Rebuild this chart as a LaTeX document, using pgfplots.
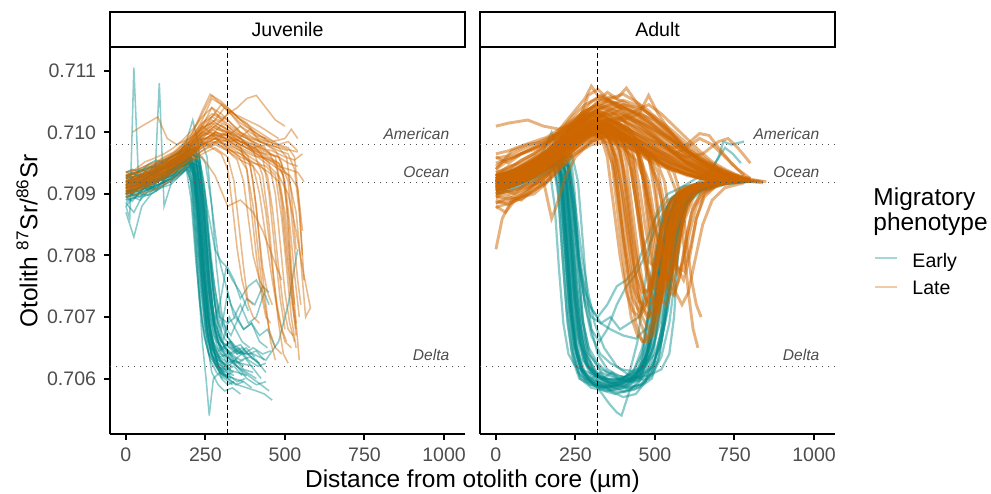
\documentclass[border=0pt]{standalone}
\usepackage{fontspec}
\setmainfont{Liberation Sans}
\usepackage{pgfplots}
\pgfplotsset{compat=1.18}
\definecolor{teal0}{HTML}{008B8B}
\definecolor{orange0}{HTML}{CD6600}
\definecolor{gray30}{HTML}{4D4D4D}
\newcommand\fs{\fontsize{8.8}{10.5}\selectfont}
\newcommand\fl{\fontsize{11}{11.2}\selectfont}
\tikzset{lab/.style={anchor=south east, inner sep=0pt, yshift=2.2pt, font=\fontsize{7}{8}\selectfont\itshape, text=gray30}}
\pgfplotsset{
  E/.style={draw=teal0, line width=0.7pt, draw opacity=0.45, no marks},
  L/.style={draw=orange0, line width=0.7pt, draw opacity=0.45, no marks},
  EA/.style={draw=teal0, line width=1.0pt, draw opacity=0.45, no marks},
  LA/.style={draw=orange0, line width=1.3pt, draw opacity=0.5, no marks},
  ref/.style={draw=gray30, line width=0.6pt, dash pattern=on 0.5pt off 2.2pt, no marks},
  vl/.style={draw=black, line width=0.6pt, dash pattern=on 2.2pt off 1.4pt, no marks},
  panel/.style={
    scale only axis, width=159.75pt, height=173.7pt, anchor=south west,
    xmin=-50, xmax=1066, ymin=0.7051, ymax=0.71137,
    axis x line*=bottom, axis line style={-, line width=1.1pt, black},
    tick style={black, line width=0.9pt}, major tick length=2.75pt, tick align=outside,
    xtick={0,250,500,750,1000}, xticklabels={0,250,500,750,1000},
    tick label style={font=\fs, text=gray30},
    /pgf/number format/assume math mode=true,
    clip=true,
  },
}
\newcommand\E{\addplot[E] coordinates}
\newcommand\Lt{\addplot[L] coordinates}
\newcommand\EA{\addplot[EA] coordinates}
\newcommand\LA{\addplot[LA] coordinates}
\newcommand\refs{%
  \addplot[ref] coordinates {(-50,0.7098)(1066,0.7098)};
  \addplot[ref] coordinates {(-50,0.70918)(1066,0.70918)};
  \addplot[ref] coordinates {(-50,0.7062)(1066,0.7062)};
  \addplot[vl] coordinates {(320,0.7051)(320,0.71137)};
  \node[lab] at (axis cs:1018,0.7098) {American};
  \node[lab] at (axis cs:1018,0.70918) {Ocean};
  \node[lab] at (axis cs:1018,0.7062) {Delta};
}
\begin{document}
\begin{tikzpicture}
\useasboundingbox (0,0) rectangle (445.95pt,221.85pt);
% ---------------- Juvenile ----------------
\begin{axis}[panel, at={(49.5pt,26.55pt)}, axis y line*=left,
  ytick={0.706,0.707,0.708,0.709,0.710,0.711},
  yticklabels={0.706,0.707,0.708,0.709,0.710,0.711}]
\E{(0,0.70902)(25,0.70908)(50,0.70915)(80,0.70920)(110,0.70928)(140,0.70935)(170,0.70945)(195,0.70955)(210,0.70940)(225,0.70880)(240,0.70790)(255,0.70700)(270,0.70650)(290,0.70630)(310,0.70625)(335,0.70620)};
\E{(0,0.70915)(30,0.70920)(60,0.70912)(90,0.70925)(120,0.70935)(150,0.70940)(180,0.70955)(205,0.70960)(220,0.70920)(235,0.70830)(250,0.70740)(265,0.70670)(280,0.70640)(300,0.70630)(320,0.70615)(350,0.70610)(380,0.70605)};
\E{(0,0.70895)(30,0.70900)(60,0.70905)(90,0.70910)(120,0.70920)(150,0.70925)(180,0.70935)(200,0.70945)(215,0.70900)(230,0.70800)(245,0.70720)(260,0.70660)(280,0.70635)(300,0.70610)(330,0.70600)};
\E{(0,0.70920)(30,0.70930)(60,0.70925)(90,0.70935)(120,0.70945)(150,0.70950)(180,0.70960)(210,0.70965)(230,0.70950)(245,0.70880)(260,0.70780)(275,0.70700)(290,0.70660)(310,0.70640)(330,0.70630)(360,0.70625)(400,0.70620)};
\E{(0,0.70885)(25,0.70870)(50,0.70895)(80,0.70900)(110,0.70910)(140,0.70915)(170,0.70930)(190,0.70940)(205,0.70890)(220,0.70790)(240,0.70690)(260,0.70640)(285,0.70620)(310,0.70615)};
\E{(0,0.70930)(30,0.70935)(60,0.70940)(90,0.70945)(120,0.70950)(150,0.70955)(180,0.70965)(210,0.70975)(230,0.70960)(245,0.70900)(260,0.70820)(275,0.70740)(290,0.70680)(310,0.70650)(330,0.70640)(360,0.70630)(390,0.70635)(420,0.70625)};
\E{(0,0.70905)(30,0.70895)(60,0.70910)(90,0.70920)(120,0.70925)(150,0.70930)(180,0.70945)(200,0.70950)(220,0.70935)(235,0.70860)(250,0.70760)(265,0.70680)(280,0.70640)(300,0.70600)(320,0.70590)(340,0.70595)};
\E{(0,0.70910)(40,0.70915)(80,0.70925)(120,0.70935)(160,0.70945)(200,0.70960)(230,0.70965)(250,0.70950)(270,0.70880)(290,0.70800)(310,0.70760)(330,0.70720)(350,0.70700)(370,0.70680)(395,0.70690)(420,0.70660)(445,0.70650)};
\E{(0,0.70925)(40,0.70920)(80,0.70930)(120,0.70940)(160,0.70950)(200,0.70955)(225,0.70945)(245,0.70860)(265,0.70730)(285,0.70660)(305,0.70650)(330,0.70660)(350,0.70645)(380,0.70640)(410,0.70630)(440,0.70610)};
\E{(0,0.70880)(12,0.70860)(25,0.71105)(40,0.70920)(70,0.70905)(100,0.70920)(130,0.70930)(160,0.70945)(190,0.70955)(210,0.70950)(225,0.70880)(240,0.70770)(255,0.70680)(270,0.70640)(290,0.70620)(310,0.70610)};
\E{(0,0.70900)(30,0.70905)(60,0.70915)(90,0.70910)(105,0.71080)(120,0.70880)(150,0.70930)(180,0.70950)(205,0.70960)(220,0.70920)(235,0.70840)(250,0.70740)(265,0.70670)(285,0.70640)(305,0.70625)(330,0.70615)};
\E{(0,0.70895)(40,0.70900)(80,0.70910)(120,0.70920)(160,0.70930)(195,0.70945)(210,0.70900)(225,0.70780)(240,0.70660)(252,0.70600)(262,0.70540)(275,0.70600)(295,0.70610)(320,0.70600)};
\E{(0,0.70910)(40,0.70915)(80,0.70920)(120,0.70930)(160,0.70945)(200,0.70955)(220,0.70930)(238,0.70840)(255,0.70730)(270,0.70660)(290,0.70620)(320,0.70600)(350,0.70590)(380,0.70585)(410,0.70580)(435,0.70575)(460,0.70565)};
\E{(0,0.70905)(40,0.70910)(80,0.70920)(120,0.70925)(160,0.70940)(200,0.70950)(225,0.70940)(245,0.70870)(262,0.70760)(280,0.70690)(300,0.70660)(330,0.70650)(360,0.70640)(400,0.70640)(440,0.70630)(480,0.70660)(510,0.70720)(540,0.70810)};
\E{(0,0.70935)(40,0.70930)(80,0.70935)(120,0.70945)(160,0.70955)(200,0.70965)(230,0.70960)(250,0.70900)(265,0.70800)(280,0.70720)(300,0.70680)(320,0.70740)(340,0.70700)(360,0.70720)(385,0.70690)(410,0.70700)(435,0.70740)(450,0.70720)};
\E{(0,0.70915)(40,0.70920)(80,0.70930)(120,0.70940)(160,0.70950)(200,0.70960)(230,0.70950)(255,0.70880)(280,0.70810)(300,0.70790)(320,0.70780)(340,0.70760)(360,0.70730)(385,0.70750)(410,0.70760)(430,0.70740)};
\E{(0,0.70890)(40,0.70895)(80,0.70905)(120,0.70915)(160,0.70925)(190,0.70940)(205,0.70920)(220,0.70830)(235,0.70720)(250,0.70660)(265,0.70630)(285,0.70610)(305,0.70600)};
\E{(0,0.70920)(40,0.70925)(80,0.70935)(120,0.70945)(160,0.70950)(200,0.70960)(215,0.70955)(230,0.70900)(245,0.70800)(260,0.70710)(275,0.70660)(295,0.70630)(320,0.70620)(345,0.70630)(370,0.70620)};
\E{(0,0.70900)(40,0.70910)(80,0.70915)(120,0.70925)(160,0.70935)(200,0.70945)(215,0.70930)(228,0.70860)(242,0.70760)(256,0.70690)(272,0.70650)(292,0.70620)(315,0.70605)(340,0.70600)(370,0.70595)};
\E{(0,0.70870)(25,0.70830)(50,0.70880)(80,0.70900)(110,0.70910)(150,0.70925)(185,0.70945)(205,0.70950)(220,0.70910)(238,0.70810)(255,0.70710)(272,0.70650)(290,0.70625)(310,0.70615)(330,0.70610)};
\E{(0,0.70910)(40,0.70918)(80,0.70925)(120,0.70935)(160,0.70948)(200,0.70958)(222,0.70950)(240,0.70890)(258,0.70790)(275,0.70710)(292,0.70670)(312,0.70650)(335,0.70640)(365,0.70650)(395,0.70635)(425,0.70620)};
\E{(0,0.70930)(40,0.70925)(80,0.70935)(120,0.70940)(160,0.70955)(200,0.70970)(225,0.70975)(245,0.70920)(262,0.70830)(278,0.70750)(295,0.70700)(315,0.70670)(340,0.70655)(370,0.70640)(400,0.70650)(430,0.70640)(455,0.70645)};
\E{(0,0.70900)(40,0.70905)(80,0.70915)(120,0.70925)(160,0.70940)(200,0.70950)(222,0.70930)(240,0.70850)(258,0.70750)(275,0.70690)(295,0.70720)(315,0.70780)(335,0.70760)(360,0.70740)(385,0.70710)};
\E{(0,0.70915)(40,0.70920)(80,0.70930)(120,0.70935)(160,0.70945)(200,0.70955)(220,0.70945)(240,0.70870)(258,0.70770)(275,0.70690)(295,0.70650)(320,0.70630)(350,0.70620)(380,0.70600)(410,0.70590)(440,0.70595)};
\E{(0,0.70925)(40,0.70930)(80,0.70945)(120,0.70955)(160,0.70965)(200,0.70975)(235,0.70990)(255,0.70960)(270,0.70880)(285,0.70780)(300,0.70710)(318,0.70670)(340,0.70650)(365,0.70640)};
\E{(0,0.70895)(40,0.70905)(80,0.70912)(120,0.70918)(160,0.70930)(190,0.70940)(210,0.70935)(225,0.70870)(240,0.70760)(255,0.70680)(270,0.70640)(290,0.70615)(310,0.70605)(335,0.70610)};
\E{(0,0.70910)(40,0.70915)(80,0.70930)(120,0.70945)(160,0.70960)(190,0.70985)(210,0.71020)(228,0.70980)(245,0.70880)(262,0.70760)(280,0.70680)(300,0.70640)(320,0.70625)};
\E{(0,0.70905)(40,0.70908)(80,0.70918)(120,0.70928)(160,0.70942)(200,0.70952)(230,0.70945)(250,0.70880)(268,0.70780)(285,0.70700)(305,0.70660)(325,0.70700)(345,0.70680)(365,0.70660)(390,0.70650)};
\E{(0,0.70915)(20,0.70905)(45,0.70925)(70,0.70918)(95,0.70935)(120,0.70930)(145,0.70948)(170,0.70945)(195,0.70962)(212,0.70950)(228,0.70875)(243,0.70775)(258,0.70690)(275,0.70650)(295,0.70635)(320,0.70640)(345,0.70625)(370,0.70630)};
\E{(0,0.70890)(20,0.70900)(45,0.70895)(70,0.70910)(95,0.70905)(120,0.70922)(145,0.70930)(170,0.70938)(195,0.70950)(208,0.70930)(222,0.70850)(236,0.70750)(250,0.70680)(268,0.70640)(290,0.70620)(315,0.70610)(340,0.70605)};
\E{(0,0.70925)(20,0.70935)(45,0.70928)(70,0.70940)(95,0.70945)(120,0.70942)(145,0.70955)(170,0.70960)(195,0.70970)(218,0.70965)(232,0.70900)(246,0.70800)(260,0.70720)(276,0.70670)(296,0.70640)(320,0.70635)(350,0.70620)(380,0.70610)(410,0.70600)};
\E{(0,0.70908)(20,0.70915)(45,0.70910)(70,0.70925)(95,0.70920)(120,0.70935)(145,0.70940)(170,0.70950)(195,0.70958)(215,0.70945)(230,0.70870)(244,0.70770)(258,0.70700)(274,0.70660)(292,0.70645)(315,0.70650)(340,0.70630)(365,0.70640)(395,0.70620)(425,0.70600)};
\E{(0,0.70880)(20,0.70892)(45,0.70900)(70,0.70898)(95,0.70912)(120,0.70920)(145,0.70925)(170,0.70935)(190,0.70945)(203,0.70920)(216,0.70830)(230,0.70730)(245,0.70670)(262,0.70640)(282,0.70620)(305,0.70610)};
\E{(0,0.70920)(20,0.70915)(45,0.70930)(70,0.70935)(95,0.70930)(120,0.70945)(145,0.70950)(170,0.70958)(195,0.70968)(220,0.70960)(238,0.70890)(252,0.70790)(266,0.70710)(282,0.70670)(300,0.70650)(325,0.70640)(355,0.70650)(385,0.70630)(415,0.70620)(440,0.70625)};
\E{(0,0.70900)(20,0.70910)(45,0.70918)(70,0.70915)(95,0.70928)(120,0.70932)(145,0.70940)(170,0.70952)(195,0.70960)(215,0.70940)(230,0.70860)(245,0.70760)(260,0.70690)(278,0.70650)(298,0.70625)(325,0.70605)(350,0.70595)(375,0.70600)};
\E{(0,0.70912)(20,0.70920)(45,0.70915)(70,0.70930)(95,0.70938)(120,0.70935)(145,0.70948)(170,0.70955)(195,0.70962)(220,0.70955)(240,0.70900)(258,0.70810)(275,0.70740)(295,0.70700)(320,0.70690)(345,0.70700)(370,0.70680)(395,0.70690)(420,0.70670)(445,0.70680)(470,0.70650)};
\E{(0,0.70930)(20,0.70925)(45,0.70940)(70,0.70935)(95,0.70948)(120,0.70952)(145,0.70960)(170,0.70968)(195,0.70975)(215,0.70970)(232,0.70910)(248,0.70810)(263,0.70730)(280,0.70680)(300,0.70660)(325,0.70640)(350,0.70630)};
\E{(0,0.70895)(20,0.70888)(45,0.70905)(70,0.70912)(95,0.70908)(120,0.70925)(145,0.70930)(170,0.70942)(195,0.70952)(213,0.70935)(228,0.70850)(243,0.70740)(258,0.70670)(275,0.70630)(295,0.70610)(320,0.70600)(345,0.70590)(370,0.70595)(395,0.70585)};
\E{(0,0.70918)(20,0.70925)(45,0.70920)(70,0.70932)(95,0.70940)(120,0.70945)(145,0.70950)(170,0.70958)(195,0.70965)(225,0.70960)(245,0.70890)(265,0.70800)(285,0.70730)(305,0.70690)(330,0.70670)(355,0.70700)(380,0.70730)(405,0.70720)(430,0.70750)(450,0.70740)};
\E{(0,0.70905)(20,0.70900)(45,0.70912)(70,0.70920)(95,0.70918)(120,0.70930)(145,0.70938)(170,0.70945)(195,0.70955)(210,0.70945)(224,0.70870)(238,0.70770)(252,0.70690)(268,0.70640)(288,0.70615)(310,0.70600)(335,0.70590)};
\E{(0,0.70935)(20,0.70940)(45,0.70935)(70,0.70948)(95,0.70955)(120,0.70950)(145,0.70962)(170,0.70970)(195,0.70980)(220,0.70975)(236,0.70920)(250,0.70830)(264,0.70750)(280,0.70690)(300,0.70660)(325,0.70650)(350,0.70640)(375,0.70645)};
\E{(0,0.70910)(20,0.70902)(45,0.70915)(70,0.70922)(95,0.70930)(120,0.70928)(145,0.70942)(170,0.70950)(195,0.70958)(216,0.70948)(232,0.70880)(247,0.70780)(262,0.70710)(278,0.70670)(298,0.70650)(322,0.70635)(348,0.70620)(372,0.70610)(398,0.70600)(425,0.70590)(450,0.70580)};
\E{(0,0.70885)(20,0.70895)(45,0.70890)(70,0.70905)(95,0.70915)(120,0.70918)(145,0.70928)(170,0.70935)(192,0.70945)(207,0.70925)(221,0.70840)(236,0.70740)(251,0.70675)(268,0.70640)(290,0.70625)(315,0.70615)(340,0.70620)(365,0.70605)};
\E{(0,0.70922)(20,0.70918)(45,0.70932)(70,0.70928)(95,0.70942)(120,0.70948)(145,0.70955)(170,0.70962)(195,0.70970)(218,0.70962)(234,0.70900)(250,0.70800)(265,0.70720)(282,0.70675)(302,0.70650)(326,0.70660)(350,0.70640)(378,0.70650)(405,0.70635)};
\E{(0,0.70900)(20,0.70908)(45,0.70902)(70,0.70918)(95,0.70925)(120,0.70922)(145,0.70935)(170,0.70945)(195,0.70952)(212,0.70935)(226,0.70850)(240,0.70740)(255,0.70660)(270,0.70610)(290,0.70590)(310,0.70580)(335,0.70585)(360,0.70575)};
\E{(0,0.70915)(20,0.70922)(45,0.70928)(70,0.70925)(95,0.70938)(120,0.70942)(145,0.70948)(170,0.70955)(195,0.70962)(214,0.70952)(229,0.70880)(244,0.70780)(259,0.70700)(276,0.70655)(296,0.70635)(320,0.70625)(345,0.70630)(370,0.70615)(400,0.70610)};
\E{(0,0.70928)(20,0.70932)(45,0.70938)(70,0.70945)(95,0.70942)(120,0.70955)(145,0.70960)(170,0.70965)(195,0.70972)(222,0.70968)(240,0.70910)(256,0.70820)(272,0.70740)(290,0.70690)(310,0.70665)(335,0.70650)(360,0.70655)(385,0.70640)(410,0.70645)(435,0.70630)};
\E{(0,0.70898)(20,0.70905)(45,0.70910)(70,0.70908)(95,0.70920)(120,0.70928)(145,0.70935)(170,0.70942)(195,0.70950)(210,0.70935)(224,0.70860)(238,0.70760)(253,0.70690)(270,0.70650)(290,0.70630)(312,0.70620)(338,0.70610)};
% late juvenile
\Lt{(0,0.70910)(40,0.70915)(80,0.70925)(120,0.70935)(160,0.70950)(200,0.70965)(240,0.70985)(280,0.71000)(320,0.70995)(360,0.70985)(400,0.70980)(440,0.70970)(470,0.70960)(490,0.70900)(505,0.70820)(520,0.70740)(535,0.70690)};
\Lt{(0,0.70920)(40,0.70925)(80,0.70930)(120,0.70940)(160,0.70955)(200,0.70975)(240,0.71010)(270,0.71040)(300,0.71020)(340,0.71000)(380,0.70990)(420,0.70975)(460,0.70970)(500,0.70960)(530,0.70955)(555,0.70965)};
\Lt{(0,0.70900)(40,0.70910)(80,0.70920)(120,0.70930)(160,0.70940)(200,0.70955)(240,0.70970)(280,0.70985)(320,0.70980)(360,0.70970)(390,0.70950)(410,0.70880)(425,0.70790)(440,0.70720)(455,0.70660)(470,0.70630)};
\Lt{(0,0.70930)(40,0.70935)(80,0.70945)(120,0.70955)(160,0.70965)(200,0.70985)(240,0.71020)(270,0.71055)(300,0.71045)(330,0.71030)(360,0.71010)(390,0.71000)(420,0.70990)(450,0.70985)};
\Lt{(0,0.70915)(40,0.70920)(80,0.70928)(120,0.70938)(160,0.70952)(200,0.70970)(240,0.70990)(280,0.70990)(320,0.70975)(360,0.70960)(400,0.70950)(440,0.70945)(470,0.70930)(490,0.70860)(505,0.70780)(520,0.70700)(535,0.70650)};
\Lt{(0,0.70905)(40,0.70912)(80,0.70920)(120,0.70930)(160,0.70945)(200,0.70960)(240,0.70980)(280,0.70990)(320,0.71000)(360,0.70990)(400,0.70975)(440,0.70960)(480,0.70950)(510,0.70930)(535,0.70870)(550,0.70790)(565,0.70700)(580,0.70715)};
\Lt{(0,0.70925)(40,0.70930)(80,0.70940)(120,0.70950)(160,0.70960)(200,0.70980)(240,0.71000)(280,0.71015)(320,0.71005)(360,0.70990)(400,0.70970)(430,0.70930)(450,0.70850)(465,0.70760)(480,0.70690)(495,0.70640)(510,0.70625)};
\Lt{(0,0.70910)(40,0.70918)(80,0.70925)(120,0.70938)(160,0.70948)(200,0.70962)(240,0.70980)(280,0.70995)(320,0.70990)(360,0.70980)(400,0.70970)(440,0.70965)(480,0.70960)(510,0.70920)(525,0.70840)(540,0.70760)(550,0.70720)};
\Lt{(0,0.70935)(40,0.70940)(80,0.70950)(120,0.70955)(160,0.70970)(200,0.70990)(240,0.71030)(270,0.71060)(300,0.71050)(340,0.71030)(380,0.71020)(420,0.71010)(450,0.71000)(480,0.70990)};
\Lt{(0,0.70900)(40,0.70905)(80,0.70915)(120,0.70925)(160,0.70938)(200,0.70955)(240,0.70970)(280,0.70980)(320,0.70970)(350,0.70955)(370,0.70920)(385,0.70860)(400,0.70800)(420,0.70760)(440,0.70740)};
\Lt{(0,0.70920)(40,0.70925)(80,0.70935)(120,0.70945)(160,0.70958)(200,0.70975)(240,0.70995)(280,0.71010)(320,0.71000)(360,0.70985)(400,0.70975)(440,0.70980)(470,0.70970)(490,0.70950)(505,0.70880)(515,0.70800)(525,0.70720)(535,0.70670)};
\Lt{(20,0.71000)(50,0.71010)(100,0.71025)(130,0.70990)(160,0.70980)(200,0.70990)(240,0.71005)(280,0.71020)(320,0.71010)(360,0.70995)(400,0.70985)(440,0.70975)};
\Lt{(0,0.70895)(40,0.70900)(80,0.70905)(120,0.70915)(160,0.70930)(200,0.70950)(240,0.70965)(280,0.70975)(320,0.70960)(340,0.70920)(355,0.70850)(370,0.70780)(385,0.70720)(400,0.70700)(420,0.70690)};
\Lt{(0,0.70915)(40,0.70922)(80,0.70932)(120,0.70942)(160,0.70955)(200,0.70968)(240,0.70985)(280,0.71000)(320,0.70995)(360,0.70980)(400,0.70968)(440,0.70955)(480,0.70940)(515,0.70930)(540,0.70910)(555,0.70840)};
\Lt{(0,0.70910)(40,0.70915)(80,0.70925)(120,0.70935)(160,0.70950)(200,0.70965)(240,0.70980)(280,0.70990)(320,0.70985)(360,0.70975)(400,0.70965)(440,0.70950)(480,0.70930)(510,0.70900)(535,0.70840)(555,0.70780)(580,0.70715)};
\Lt{(0,0.70925)(40,0.70930)(80,0.70938)(120,0.70948)(160,0.70960)(200,0.70978)(240,0.70995)(280,0.71010)(320,0.71030)(350,0.71040)(380,0.71055)(410,0.71060)(440,0.71040)(470,0.71020)(500,0.71010)};
\Lt{(0,0.70905)(40,0.70910)(80,0.70918)(120,0.70928)(160,0.70940)(200,0.70958)(240,0.70975)(280,0.70985)(320,0.70970)(360,0.70955)(400,0.70945)(420,0.70900)(440,0.70830)(460,0.70760)(480,0.70700)(500,0.70660)(520,0.70650)};
\Lt{(0,0.70920)(40,0.70928)(80,0.70938)(120,0.70945)(160,0.70960)(200,0.70980)(240,0.71000)(280,0.71020)(310,0.71040)(340,0.71030)(380,0.71010)(420,0.70995)(460,0.70985)(500,0.70990)(520,0.71005)(540,0.70990)};
\Lt{(0,0.70912)(40,0.70918)(80,0.70926)(120,0.70936)(160,0.70948)(200,0.70962)(240,0.70978)(280,0.70990)(320,0.70975)(355,0.70960)(380,0.70940)(400,0.70880)(415,0.70810)(430,0.70740)(450,0.70680)(470,0.70650)(490,0.70640)};
\Lt{(0,0.70900)(40,0.70908)(80,0.70915)(120,0.70925)(160,0.70938)(200,0.70955)(240,0.70960)(280,0.70930)(320,0.70880)(360,0.70890)(400,0.70870)(430,0.70840)(460,0.70800)(490,0.70760)};
\Lt{(0,0.70930)(40,0.70935)(80,0.70942)(120,0.70952)(160,0.70965)(200,0.70985)(240,0.71010)(280,0.71030)(320,0.71020)(360,0.71000)(400,0.70990)(440,0.70985)(480,0.70980)(510,0.70975)(530,0.70960)(545,0.70880)(560,0.70760)};
\Lt{(0,0.70915)(40,0.70920)(80,0.70930)(120,0.70940)(160,0.70952)(200,0.70968)(240,0.70988)(280,0.70998)(320,0.70988)(360,0.70972)(400,0.70962)(440,0.70958)(470,0.70950)(495,0.70930)(510,0.70860)(522,0.70770)(535,0.70690)(545,0.70630)};
\Lt{(0,0.70908)(40,0.70914)(80,0.70922)(120,0.70932)(160,0.70946)(200,0.70962)(240,0.70982)(280,0.70996)(320,0.70994)(360,0.70984)(400,0.70976)(440,0.70968)(480,0.70960)(510,0.70950)(540,0.70945)};
\Lt{(0,0.70922)(40,0.70926)(80,0.70934)(120,0.70944)(160,0.70956)(200,0.70972)(240,0.70992)(280,0.71006)(320,0.71000)(360,0.70990)(400,0.70980)(430,0.70960)(450,0.70900)(468,0.70810)(485,0.70730)(500,0.70680)};
\Lt{(0,0.70918)(30,0.70925)(60,0.70922)(90,0.70938)(120,0.70945)(150,0.70958)(180,0.70965)(210,0.70982)(240,0.71000)(270,0.70995)(300,0.71012)(330,0.71000)(360,0.70992)(390,0.71005)(420,0.70985)(450,0.70980)(480,0.70975)(505,0.70960)(520,0.70900)(535,0.70810)};
\Lt{(0,0.70905)(30,0.70915)(60,0.70918)(90,0.70925)(120,0.70935)(150,0.70945)(180,0.70958)(210,0.70970)(240,0.70985)(270,0.70978)(300,0.70992)(330,0.70985)(360,0.70975)(385,0.70960)(400,0.70920)(415,0.70850)(430,0.70780)(445,0.70740)(460,0.70720)};
\Lt{(0,0.70925)(30,0.70935)(60,0.70930)(90,0.70945)(120,0.70952)(150,0.70962)(180,0.70975)(210,0.70990)(240,0.71015)(270,0.71025)(300,0.71018)(330,0.71035)(360,0.71020)(390,0.71010)(420,0.71000)(450,0.70990)(480,0.70980)(510,0.70985)(540,0.70970)};
\Lt{(0,0.70912)(30,0.70920)(60,0.70925)(90,0.70930)(120,0.70942)(150,0.70950)(180,0.70962)(210,0.70975)(240,0.70990)(270,0.71005)(300,0.70995)(330,0.70985)(360,0.70990)(390,0.70975)(420,0.70965)(450,0.70950)(470,0.70900)(485,0.70820)(500,0.70740)(515,0.70690)(530,0.70660)};
\Lt{(0,0.70930)(30,0.70938)(60,0.70945)(90,0.70950)(120,0.70960)(150,0.70968)(180,0.70982)(210,0.71000)(240,0.71035)(265,0.71062)(290,0.71050)(320,0.71040)(350,0.71025)(380,0.71015)(410,0.70995)(440,0.70990)};
\Lt{(0,0.70898)(30,0.70905)(60,0.70912)(90,0.70920)(120,0.70928)(150,0.70940)(180,0.70952)(210,0.70965)(240,0.70975)(270,0.70985)(300,0.70978)(330,0.70970)(360,0.70965)(390,0.70955)(420,0.70945)(450,0.70935)(480,0.70920)(500,0.70870)(515,0.70790)(530,0.70720)};
\Lt{(0,0.70915)(30,0.70922)(60,0.70930)(90,0.70935)(120,0.70945)(150,0.70955)(180,0.70968)(210,0.70985)(240,0.71005)(270,0.71020)(300,0.71010)(330,0.70998)(360,0.71010)(390,0.70995)(420,0.70985)(450,0.70978)(480,0.70970)(510,0.70965)(530,0.70940)(545,0.70870)(555,0.70800)};
\Lt{(0,0.70922)(30,0.70918)(60,0.70935)(90,0.70940)(120,0.70950)(150,0.70962)(180,0.70975)(210,0.70990)(240,0.71010)(270,0.70998)(300,0.70985)(330,0.70990)(360,0.70978)(380,0.70940)(395,0.70870)(410,0.70800)(425,0.70740)(440,0.70700)(455,0.70690)};
\Lt{(0,0.70908)(30,0.70912)(60,0.70920)(90,0.70932)(120,0.70940)(150,0.70952)(180,0.70962)(210,0.70978)(240,0.70995)(270,0.71000)(300,0.70990)(330,0.70980)(360,0.70970)(390,0.70960)(420,0.70950)(445,0.70930)(462,0.70870)(478,0.70790)(494,0.70720)(510,0.70680)(525,0.70670)};
\Lt{(0,0.70935)(30,0.70940)(60,0.70952)(90,0.70958)(120,0.70965)(150,0.70975)(180,0.70988)(210,0.71005)(240,0.71025)(270,0.71040)(300,0.71030)(330,0.71015)(360,0.71000)(390,0.70990)(420,0.70985)(450,0.70980)(480,0.70975)(510,0.70970)};
\Lt{(0,0.70902)(30,0.70910)(60,0.70915)(90,0.70925)(120,0.70932)(150,0.70945)(180,0.70955)(210,0.70968)(240,0.70982)(270,0.70975)(300,0.70965)(320,0.70940)(335,0.70880)(350,0.70810)(365,0.70760)(380,0.70730)(400,0.70720)};
\Lt{(0,0.70920)(30,0.70928)(60,0.70932)(90,0.70942)(120,0.70950)(150,0.70960)(180,0.70972)(210,0.70988)(240,0.71008)(270,0.71015)(300,0.71005)(330,0.70995)(360,0.70985)(390,0.70975)(420,0.70970)(450,0.70960)(480,0.70950)(500,0.70920)(515,0.70850)(530,0.70770)(545,0.70700)};
\Lt{(0,0.70912)(30,0.70918)(60,0.70928)(90,0.70935)(120,0.70942)(150,0.70955)(180,0.70965)(210,0.70980)(240,0.70998)(270,0.71010)(300,0.71002)(330,0.70990)(360,0.70980)(390,0.70972)(420,0.70962)(450,0.70955)(480,0.70945)(510,0.70940)(540,0.70935)(560,0.70920)};
\Lt{(0,0.70928)(30,0.70932)(60,0.70940)(90,0.70948)(120,0.70958)(150,0.70966)(180,0.70978)(210,0.70995)(240,0.71015)(270,0.71030)(300,0.71022)(330,0.71010)(360,0.70998)(390,0.70988)(420,0.70978)(450,0.70968)(475,0.70940)(490,0.70880)(505,0.70800)(520,0.70730)(535,0.70680)};
\Lt{(0,0.70905)(30,0.70912)(60,0.70918)(90,0.70928)(120,0.70935)(150,0.70948)(180,0.70960)(210,0.70972)(240,0.70988)(270,0.70995)(300,0.70985)(330,0.70975)(360,0.70965)(390,0.70952)(420,0.70930)(440,0.70870)(458,0.70790)(475,0.70720)(490,0.70680)(505,0.70660)};
\Lt{(0,0.70918)(30,0.70924)(60,0.70932)(90,0.70940)(120,0.70948)(150,0.70958)(180,0.70970)(210,0.70986)(240,0.71002)(270,0.71025)(300,0.71045)(330,0.71030)(360,0.71015)(390,0.71005)(420,0.70995)(450,0.70985)(480,0.70978)(510,0.70972)(540,0.70968)};
\refs
\end{axis}
% ---------------- Adult ----------------
\begin{axis}[panel, at={(216pt,26.55pt)}, axis y line*=none, ytick=\empty]
\EA{(0,0.70920)(40,0.70925)(80,0.70930)(120,0.70940)(160,0.70950)(185,0.70955)(200,0.70920)(215,0.70820)(230,0.70710)(245,0.70640)(265,0.70600)(300,0.70585)(350,0.70580)(400,0.70585)(440,0.70600)(465,0.70650)(485,0.70730)(505,0.70810)(525,0.70865)(555,0.70895)(600,0.70910)(650,0.70915)(700,0.70920)};
\EA{(0,0.70910)(40,0.70915)(80,0.70922)(120,0.70932)(160,0.70942)(195,0.70950)(210,0.70915)(225,0.70810)(240,0.70700)(258,0.70630)(280,0.70600)(320,0.70590)(370,0.70585)(420,0.70590)(460,0.70610)(485,0.70660)(505,0.70740)(525,0.70820)(545,0.70870)(575,0.70900)(620,0.70912)(680,0.70918)(740,0.70920)};
\EA{(0,0.70925)(40,0.70930)(80,0.70938)(120,0.70946)(160,0.70956)(200,0.70965)(220,0.70930)(235,0.70830)(250,0.70730)(268,0.70660)(290,0.70620)(330,0.70600)(380,0.70595)(430,0.70600)(470,0.70620)(495,0.70680)(515,0.70760)(535,0.70840)(560,0.70885)(600,0.70905)(660,0.70915)(720,0.70920)};
\EA{(0,0.70915)(40,0.70920)(80,0.70928)(120,0.70936)(160,0.70946)(180,0.70950)(195,0.70900)(210,0.70790)(225,0.70690)(242,0.70630)(262,0.70600)(300,0.70590)(340,0.70585)(380,0.70590)(420,0.70610)(445,0.70660)(465,0.70740)(485,0.70820)(505,0.70870)(540,0.70900)(590,0.70912)(650,0.70918)};
\EA{(0,0.70905)(40,0.70910)(80,0.70918)(120,0.70928)(160,0.70940)(200,0.70950)(230,0.70945)(245,0.70870)(260,0.70770)(275,0.70690)(295,0.70640)(330,0.70610)(380,0.70600)(430,0.70595)(480,0.70600)(510,0.70630)(530,0.70690)(550,0.70770)(570,0.70840)(595,0.70885)(640,0.70905)(700,0.70915)(780,0.70920)};
\EA{(0,0.70930)(40,0.70934)(80,0.70940)(120,0.70948)(160,0.70958)(190,0.70965)(205,0.70930)(220,0.70830)(235,0.70720)(250,0.70650)(270,0.70610)(310,0.70590)(360,0.70582)(410,0.70585)(450,0.70600)(475,0.70640)(495,0.70710)(515,0.70790)(535,0.70850)(565,0.70890)(610,0.70908)(670,0.70916)(750,0.70920)};
\EA{(0,0.70918)(40,0.70922)(80,0.70930)(120,0.70938)(160,0.70948)(200,0.70958)(215,0.70940)(228,0.70860)(242,0.70760)(256,0.70680)(275,0.70630)(305,0.70600)(350,0.70590)(400,0.70580)(450,0.70585)(490,0.70600)(515,0.70640)(535,0.70710)(555,0.70790)(575,0.70850)(600,0.70885)(650,0.70905)(720,0.70915)(800,0.70920)};
\EA{(0,0.70912)(40,0.70918)(80,0.70926)(120,0.70934)(160,0.70944)(200,0.70955)(222,0.70930)(238,0.70840)(254,0.70740)(270,0.70670)(290,0.70620)(320,0.70595)(360,0.70580)(400,0.70570)(440,0.70575)(470,0.70595)(495,0.70640)(515,0.70710)(535,0.70790)(560,0.70860)(590,0.70895)(640,0.70910)(700,0.70918)};
\EA{(0,0.70920)(40,0.70925)(80,0.70933)(120,0.70942)(160,0.70952)(195,0.70960)(212,0.70920)(228,0.70810)(244,0.70710)(262,0.70640)(285,0.70600)(320,0.70585)(355,0.70560)(380,0.70545)(395,0.70540)(420,0.70580)(455,0.70600)(480,0.70640)(500,0.70710)(520,0.70790)(545,0.70860)(575,0.70895)(620,0.70910)(680,0.70918)};
\EA{(0,0.70925)(40,0.70930)(80,0.70938)(120,0.70946)(160,0.70955)(190,0.70960)(205,0.70925)(220,0.70820)(236,0.70710)(252,0.70640)(272,0.70605)(310,0.70590)(360,0.70585)(410,0.70590)(450,0.70610)(475,0.70660)(495,0.70740)(515,0.70820)(540,0.70880)(580,0.70910)(630,0.70925)(680,0.70940)(700,0.70960)(715,0.70985)(740,0.70980)(780,0.70985)};
\EA{(0,0.70900)(40,0.70905)(80,0.70912)(120,0.70920)(150,0.70930)(170,0.70935)(185,0.70880)(198,0.70780)(212,0.70690)(228,0.70640)(250,0.70620)(290,0.70610)(340,0.70600)(390,0.70598)(430,0.70610)(460,0.70640)(480,0.70700)(500,0.70780)(520,0.70850)(550,0.70890)(600,0.70908)(660,0.70916)};
\EA{(0,0.70915)(40,0.70920)(80,0.70928)(120,0.70937)(160,0.70947)(200,0.70957)(225,0.70940)(240,0.70850)(255,0.70750)(272,0.70680)(292,0.70640)(330,0.70615)(380,0.70605)(430,0.70600)(480,0.70605)(520,0.70615)(545,0.70640)(560,0.70700)(572,0.70800)(585,0.70870)(610,0.70900)(660,0.70912)(720,0.70918)(790,0.70920)};
\EA{(0,0.70908)(40,0.70913)(80,0.70920)(120,0.70930)(160,0.70940)(200,0.70952)(230,0.70945)(250,0.70880)(270,0.70800)(290,0.70740)(310,0.70690)(340,0.70650)(380,0.70620)(420,0.70605)(460,0.70600)(495,0.70620)(520,0.70670)(540,0.70740)(560,0.70820)(585,0.70870)(620,0.70900)(670,0.70912)(740,0.70918)};
\EA{(0,0.70922)(40,0.70927)(80,0.70935)(120,0.70944)(160,0.70954)(200,0.70962)(225,0.70950)(240,0.70880)(258,0.70790)(278,0.70730)(300,0.70700)(330,0.70690)(360,0.70680)(400,0.70670)(440,0.70665)(470,0.70680)(495,0.70730)(520,0.70800)(545,0.70860)(575,0.70895)(620,0.70910)(680,0.70918)};
\EA{(0,0.70918)(40,0.70923)(80,0.70931)(120,0.70940)(160,0.70950)(200,0.70960)(235,0.70965)(248,0.70900)(260,0.70790)(272,0.70700)(288,0.70640)(315,0.70605)(360,0.70590)(410,0.70585)(455,0.70590)(490,0.70610)(515,0.70660)(535,0.70740)(555,0.70820)(580,0.70875)(620,0.70902)(680,0.70914)(760,0.70920)};
\EA{(0,0.70912)(40,0.70916)(80,0.70924)(120,0.70933)(160,0.70943)(190,0.70952)(204,0.70915)(218,0.70815)(232,0.70715)(248,0.70650)(268,0.70615)(300,0.70598)(345,0.70592)(395,0.70595)(440,0.70605)(470,0.70630)(492,0.70690)(512,0.70770)(532,0.70840)(560,0.70885)(605,0.70906)(665,0.70915)(730,0.70920)};
\EA{(0,0.70928)(40,0.70932)(80,0.70940)(120,0.70948)(160,0.70958)(198,0.70966)(214,0.70935)(230,0.70835)(246,0.70730)(264,0.70660)(286,0.70620)(320,0.70600)(370,0.70592)(420,0.70596)(465,0.70612)(495,0.70650)(518,0.70720)(540,0.70800)(562,0.70860)(590,0.70895)(640,0.70910)(710,0.70918)(820,0.70920)};
\EA{(0,0.70920)(40,0.70925)(80,0.70935)(120,0.70950)(150,0.70970)(175,0.71000)(190,0.70980)(205,0.70900)(220,0.70790)(236,0.70700)(254,0.70640)(276,0.70610)(310,0.70595)(360,0.70588)(410,0.70592)(455,0.70605)(485,0.70640)(508,0.70710)(528,0.70790)(550,0.70855)(580,0.70892)(630,0.70908)(690,0.70916)};
\EA{(0,0.70915)(40,0.70920)(80,0.70928)(120,0.70938)(160,0.70948)(200,0.70958)(225,0.70945)(245,0.70870)(265,0.70780)(290,0.70720)(320,0.70700)(350,0.70720)(380,0.70750)(410,0.70760)(440,0.70780)(470,0.70820)(500,0.70860)(540,0.70890)(590,0.70905)(650,0.70914)(720,0.70920)};
\EA{(0,0.70905)(40,0.70910)(80,0.70917)(120,0.70926)(160,0.70937)(200,0.70948)(218,0.70920)(232,0.70830)(248,0.70730)(265,0.70660)(285,0.70625)(320,0.70605)(365,0.70598)(410,0.70600)(450,0.70612)(478,0.70645)(498,0.70705)(518,0.70780)(540,0.70850)(568,0.70890)(615,0.70906)(680,0.70916)(760,0.70920)};
\EA{(0,0.70922)(40,0.70915)(80,0.70930)(120,0.70938)(160,0.70945)(190,0.70955)(206,0.70925)(221,0.70830)(236,0.70725)(252,0.70655)(272,0.70615)(300,0.70600)(330,0.70610)(360,0.70590)(390,0.70600)(420,0.70595)(450,0.70605)(475,0.70640)(495,0.70700)(515,0.70780)(535,0.70845)(560,0.70885)(600,0.70905)(660,0.70915)(730,0.70920)};
\EA{(0,0.70910)(40,0.70918)(80,0.70922)(120,0.70935)(160,0.70942)(195,0.70952)(212,0.70930)(226,0.70840)(240,0.70740)(256,0.70670)(276,0.70630)(305,0.70610)(335,0.70600)(365,0.70610)(395,0.70595)(425,0.70600)(455,0.70615)(480,0.70650)(500,0.70710)(520,0.70790)(540,0.70850)(565,0.70888)(610,0.70906)(670,0.70916)};
\EA{(0,0.70918)(40,0.70925)(80,0.70930)(120,0.70940)(160,0.70952)(200,0.70962)(228,0.70955)(245,0.70885)(262,0.70800)(282,0.70740)(305,0.70710)(330,0.70690)(360,0.70700)(390,0.70680)(420,0.70690)(450,0.70700)(475,0.70740)(500,0.70800)(525,0.70855)(555,0.70890)(600,0.70906)(660,0.70915)(730,0.70920)};
\EA{(0,0.70925)(40,0.70930)(80,0.70936)(120,0.70945)(160,0.70955)(200,0.70963)(218,0.70940)(232,0.70850)(246,0.70745)(262,0.70670)(282,0.70625)(310,0.70605)(345,0.70595)(380,0.70590)(415,0.70595)(450,0.70600)(485,0.70615)(515,0.70650)(540,0.70710)(560,0.70790)(580,0.70855)(605,0.70892)(650,0.70908)(710,0.70916)(790,0.70920)};
\EA{(0,0.70900)(40,0.70908)(80,0.70915)(120,0.70925)(160,0.70935)(185,0.70942)(200,0.70905)(214,0.70805)(228,0.70705)(244,0.70640)(264,0.70605)(295,0.70590)(330,0.70585)(365,0.70590)(400,0.70600)(435,0.70615)(460,0.70650)(480,0.70710)(500,0.70790)(520,0.70855)(548,0.70890)(595,0.70906)(655,0.70915)};
\EA{(0,0.70928)(40,0.70935)(80,0.70942)(120,0.70950)(160,0.70960)(205,0.70968)(225,0.70950)(240,0.70870)(255,0.70770)(272,0.70695)(292,0.70650)(320,0.70625)(350,0.70610)(385,0.70600)(420,0.70605)(455,0.70615)(488,0.70640)(515,0.70690)(538,0.70760)(558,0.70830)(580,0.70875)(610,0.70900)(660,0.70912)(730,0.70918)(810,0.70920)};
\EA{(0,0.70915)(40,0.70922)(80,0.70930)(120,0.70938)(160,0.70948)(200,0.70956)(240,0.70962)(258,0.70920)(272,0.70830)(286,0.70740)(300,0.70680)(320,0.70640)(350,0.70615)(385,0.70605)(420,0.70600)(455,0.70605)(490,0.70620)(520,0.70660)(545,0.70730)(565,0.70810)(585,0.70865)(615,0.70898)(665,0.70912)(740,0.70920)};
\EA{(0,0.70912)(40,0.70918)(80,0.70925)(120,0.70934)(160,0.70944)(195,0.70953)(210,0.70925)(224,0.70830)(238,0.70725)(254,0.70650)(274,0.70610)(305,0.70590)(340,0.70580)(375,0.70575)(410,0.70580)(445,0.70590)(475,0.70615)(500,0.70665)(522,0.70740)(542,0.70815)(565,0.70870)(595,0.70898)(645,0.70910)(710,0.70918)};
\EA{(0,0.70920)(40,0.70926)(80,0.70934)(120,0.70944)(160,0.70954)(200,0.70962)(225,0.70950)(242,0.70880)(260,0.70790)(280,0.70720)(300,0.70680)(325,0.70660)(350,0.70680)(380,0.70720)(410,0.70750)(440,0.70770)(470,0.70800)(500,0.70840)(530,0.70875)(570,0.70900)(620,0.70910)(690,0.70918)};
\EA{(0,0.70905)(40,0.70912)(80,0.70920)(120,0.70930)(160,0.70940)(200,0.70950)(222,0.70935)(237,0.70850)(252,0.70750)(268,0.70680)(288,0.70635)(318,0.70610)(350,0.70598)(385,0.70590)(420,0.70585)(455,0.70590)(490,0.70605)(520,0.70635)(545,0.70690)(565,0.70770)(582,0.70840)(600,0.70880)(630,0.70902)(680,0.70914)(750,0.70920)};
\EA{(0,0.70930)(40,0.70936)(80,0.70944)(120,0.70952)(160,0.70960)(188,0.70968)(203,0.70935)(217,0.70835)(231,0.70725)(246,0.70655)(266,0.70615)(296,0.70598)(330,0.70590)(365,0.70588)(400,0.70592)(435,0.70602)(465,0.70625)(490,0.70670)(510,0.70740)(530,0.70815)(552,0.70870)(580,0.70898)(625,0.70910)(690,0.70918)(770,0.70920)};
\EA{(0,0.70918)(40,0.70922)(80,0.70930)(120,0.70940)(160,0.70950)(200,0.70958)(220,0.70935)(235,0.70845)(250,0.70745)(266,0.70675)(286,0.70630)(316,0.70605)(350,0.70595)(385,0.70592)(420,0.70600)(455,0.70615)(485,0.70650)(510,0.70720)(532,0.70800)(555,0.70860)(585,0.70895)(625,0.70915)(665,0.70930)(695,0.70955)(720,0.70975)(745,0.70965)(770,0.70950)};
\EA{(0,0.70908)(40,0.70915)(80,0.70922)(120,0.70932)(160,0.70942)(180,0.70948)(195,0.70910)(208,0.70810)(222,0.70710)(238,0.70645)(258,0.70610)(288,0.70595)(320,0.70590)(355,0.70585)(390,0.70590)(425,0.70600)(455,0.70620)(478,0.70660)(498,0.70730)(518,0.70810)(540,0.70865)(570,0.70895)(615,0.70908)(675,0.70916)};
\EA{(0,0.70925)(40,0.70928)(80,0.70936)(120,0.70946)(160,0.70956)(200,0.70965)(230,0.70958)(246,0.70890)(262,0.70795)(280,0.70720)(300,0.70670)(328,0.70640)(360,0.70625)(395,0.70615)(430,0.70612)(465,0.70620)(500,0.70640)(528,0.70690)(550,0.70760)(568,0.70830)(588,0.70875)(615,0.70900)(660,0.70912)(720,0.70918)};
\EA{(0,0.70915)(40,0.70920)(80,0.70926)(120,0.70936)(160,0.70946)(192,0.70955)(207,0.70925)(221,0.70830)(235,0.70725)(250,0.70655)(270,0.70615)(298,0.70595)(330,0.70585)(365,0.70580)(400,0.70578)(435,0.70582)(470,0.70595)(498,0.70625)(520,0.70680)(540,0.70755)(560,0.70830)(582,0.70878)(612,0.70902)(660,0.70912)(730,0.70920)};
\EA{(0,0.70920)(40,0.70925)(80,0.70932)(120,0.70942)(160,0.70952)(200,0.70960)(216,0.70945)(230,0.70870)(245,0.70770)(260,0.70695)(278,0.70645)(305,0.70615)(338,0.70600)(372,0.70598)(405,0.70602)(440,0.70612)(470,0.70635)(495,0.70680)(518,0.70750)(540,0.70825)(562,0.70875)(592,0.70900)(640,0.70912)(705,0.70918)};
% late adult
\LA{(0,0.70920)(50,0.70930)(100,0.70940)(150,0.70955)(200,0.70975)(250,0.70995)(300,0.71010)(350,0.71015)(400,0.71005)(450,0.70990)(500,0.70975)(550,0.70960)(600,0.70945)(650,0.70935)(700,0.70928)(750,0.70922)(800,0.70920)};
\LA{(0,0.70910)(50,0.70915)(100,0.70925)(150,0.70940)(200,0.70960)(250,0.70985)(300,0.71000)(350,0.71005)(400,0.70995)(450,0.70985)(500,0.70970)(550,0.70955)(600,0.70940)(650,0.70930)(700,0.70922)(740,0.70918)};
\LA{(0,0.70930)(50,0.70940)(100,0.70950)(150,0.70965)(200,0.70990)(250,0.71015)(300,0.71035)(350,0.71040)(400,0.71030)(450,0.71015)(500,0.70995)(550,0.70975)(600,0.70955)(650,0.70940)(700,0.70930)(750,0.70925)(800,0.70920)(840,0.70918)};
\LA{(0,0.70900)(50,0.70905)(100,0.70915)(150,0.70930)(200,0.70950)(250,0.70970)(300,0.70985)(350,0.70990)(400,0.70985)(450,0.70975)(500,0.70960)(550,0.70945)(600,0.70935)(650,0.70925)(700,0.70918)};
\LA{(0,0.70925)(50,0.70935)(100,0.70945)(150,0.70960)(200,0.70985)(250,0.71020)(300,0.71050)(330,0.71060)(360,0.71050)(400,0.71035)(450,0.71020)(500,0.71000)(550,0.70980)(600,0.70960)(650,0.70945)(700,0.70935)(750,0.70925)(800,0.70920)};
\LA{(0,0.70915)(50,0.70920)(100,0.70930)(150,0.70945)(200,0.70965)(250,0.70990)(300,0.71005)(350,0.71020)(400,0.71025)(450,0.71015)(500,0.70995)(550,0.70970)(600,0.70950)(650,0.70935)(700,0.70925)(760,0.70920)};
\LA{(0,0.70935)(50,0.70945)(100,0.70960)(150,0.70975)(200,0.70995)(250,0.71010)(300,0.71020)(350,0.71010)(400,0.70995)(450,0.70980)(500,0.70965)(550,0.70950)(600,0.70940)(650,0.70930)(700,0.70925)(750,0.70920)};
\LA{(0,0.70905)(50,0.70912)(100,0.70922)(150,0.70938)(200,0.70958)(250,0.70980)(300,0.70998)(350,0.71010)(400,0.71020)(450,0.71030)(500,0.71020)(550,0.71000)(600,0.70975)(650,0.70955)(700,0.70940)(750,0.70930)(800,0.70922)(830,0.70920)};
\LA{(0,0.70920)(50,0.70928)(100,0.70938)(150,0.70952)(200,0.70972)(250,0.71000)(300,0.71030)(350,0.71045)(400,0.71040)(450,0.71025)(500,0.71005)(550,0.70985)(600,0.70962)(650,0.70945)(700,0.70932)(750,0.70925)};
\LA{(0,0.70895)(50,0.70900)(100,0.70910)(150,0.70925)(200,0.70945)(250,0.70965)(300,0.70980)(350,0.70985)(400,0.70978)(450,0.70968)(500,0.70955)(550,0.70942)(600,0.70932)(650,0.70925)(700,0.70920)(750,0.70918)};
\LA{(0,0.71010)(40,0.71015)(100,0.71020)(150,0.71010)(200,0.71005)(250,0.71015)(300,0.71025)(350,0.71030)(400,0.71020)(450,0.71005)(500,0.70990)(550,0.70970)(600,0.70950)(650,0.70935)(700,0.70925)};
\LA{(0,0.70925)(50,0.70932)(100,0.70944)(150,0.70958)(200,0.70980)(250,0.71005)(290,0.71060)(320,0.71070)(350,0.71055)(400,0.71040)(450,0.71030)(480,0.71060)(510,0.71030)(550,0.71000)(600,0.70970)(650,0.70950)(700,0.70935)(750,0.70925)};
\LA{(0,0.70912)(50,0.70918)(100,0.70928)(150,0.70944)(200,0.70966)(250,0.70992)(300,0.71012)(350,0.71022)(400,0.71018)(450,0.71006)(500,0.70990)(550,0.70972)(600,0.70955)(650,0.70940)(700,0.70930)(750,0.70923)(800,0.70920)};
\LA{(0,0.70930)(50,0.70936)(100,0.70946)(150,0.70962)(200,0.70984)(250,0.71008)(300,0.71026)(350,0.71032)(400,0.71028)(450,0.71018)(500,0.71004)(550,0.70988)(600,0.70970)(650,0.70952)(700,0.70938)(750,0.70928)(800,0.70922)(850,0.70920)};
\LA{(0,0.70918)(50,0.70924)(100,0.70934)(150,0.70948)(200,0.70968)(250,0.70988)(300,0.71000)(350,0.71000)(400,0.70990)(450,0.70978)(500,0.70965)(550,0.70950)(600,0.70938)(650,0.70928)(700,0.70922)};
\LA{(0,0.70810)(20,0.70860)(50,0.70890)(100,0.70905)(150,0.70925)(200,0.70950)(250,0.70975)(300,0.70995)(350,0.71000)(400,0.70995)(450,0.70985)(500,0.70970)(550,0.70955)(600,0.70940)(650,0.70930)(700,0.70922)};
\LA{(0,0.70922)(50,0.70930)(100,0.70940)(150,0.70955)(200,0.70975)(250,0.71000)(300,0.71015)(350,0.71020)(400,0.71012)(450,0.71000)(500,0.70985)(550,0.70970)(600,0.70960)(650,0.70965)(700,0.70985)(730,0.70990)(760,0.70975)(800,0.70950)};
\LA{(0,0.70908)(50,0.70914)(100,0.70924)(150,0.70940)(200,0.70962)(250,0.70990)(300,0.71015)(350,0.71035)(400,0.71045)(450,0.71040)(500,0.71025)(550,0.71005)(600,0.70982)(650,0.70960)(700,0.70942)(750,0.70930)(800,0.70922)};
\LA{(0,0.70915)(50,0.70920)(100,0.70930)(150,0.70945)(200,0.70965)(250,0.70985)(300,0.71000)(350,0.71005)(380,0.70990)(400,0.70940)(420,0.70850)(440,0.70760)(460,0.70700)(480,0.70680)(500,0.70700)(520,0.70760)(540,0.70840)(560,0.70890)(600,0.70910)(650,0.70918)(700,0.70920)};
\LA{(0,0.70925)(50,0.70930)(100,0.70940)(150,0.70955)(200,0.70975)(250,0.70995)(300,0.71010)(350,0.71015)(400,0.71000)(430,0.70960)(450,0.70880)(470,0.70790)(490,0.70730)(510,0.70710)(530,0.70740)(550,0.70800)(570,0.70860)(600,0.70900)(650,0.70915)(700,0.70920)(760,0.70920)};
\LA{(0,0.70910)(50,0.70915)(100,0.70925)(150,0.70940)(200,0.70960)(250,0.70980)(300,0.70995)(340,0.70990)(365,0.70950)(385,0.70860)(405,0.70770)(425,0.70700)(445,0.70670)(465,0.70660)(490,0.70680)(515,0.70750)(540,0.70830)(565,0.70880)(600,0.70905)(650,0.70915)(720,0.70920)};
\LA{(0,0.70920)(50,0.70926)(100,0.70936)(150,0.70950)(200,0.70970)(250,0.70990)(300,0.71005)(350,0.71010)(400,0.71005)(440,0.70980)(465,0.70920)(485,0.70840)(505,0.70770)(525,0.70740)(545,0.70760)(565,0.70820)(585,0.70870)(610,0.70900)(650,0.70912)(700,0.70918)(750,0.70920)};
\LA{(0,0.70918)(50,0.70925)(100,0.70935)(150,0.70948)(200,0.70968)(250,0.70988)(300,0.71000)(350,0.71000)(400,0.70990)(450,0.70975)(500,0.70960)(540,0.70940)(570,0.70900)(590,0.70820)(605,0.70740)(620,0.70680)(635,0.70650)};
\LA{(0,0.70930)(50,0.70936)(100,0.70946)(150,0.70960)(200,0.70980)(250,0.71000)(300,0.71015)(340,0.71010)(370,0.70980)(395,0.70910)(415,0.70830)(435,0.70760)(455,0.70720)(475,0.70700)(500,0.70720)(525,0.70780)(550,0.70850)(575,0.70890)(610,0.70910)(660,0.70918)(720,0.70920)};
\LA{(0,0.70905)(50,0.70912)(100,0.70922)(150,0.70936)(200,0.70955)(250,0.70975)(300,0.70990)(350,0.70995)(400,0.70985)(450,0.70965)(480,0.70920)(505,0.70840)(525,0.70780)(545,0.70760)(565,0.70790)(585,0.70850)(605,0.70890)(640,0.70910)(690,0.70918)(740,0.70920)};
\LA{(0,0.70915)(50,0.70922)(100,0.70932)(150,0.70946)(200,0.70966)(250,0.70988)(300,0.71005)(350,0.71012)(390,0.71000)(420,0.70960)(440,0.70890)(460,0.70810)(480,0.70750)(500,0.70720)(520,0.70730)(540,0.70780)(560,0.70850)(585,0.70895)(620,0.70912)(680,0.70920)};
\LA{(0,0.70922)(50,0.70928)(100,0.70938)(150,0.70952)(200,0.70972)(250,0.70994)(300,0.71008)(350,0.71010)(400,0.70998)(450,0.70980)(500,0.70960)(530,0.70920)(550,0.70850)(570,0.70780)(590,0.70760)(610,0.70800)(630,0.70860)(655,0.70900)(700,0.70915)(760,0.70920)};
\LA{(0,0.70912)(50,0.70918)(100,0.70928)(150,0.70942)(200,0.70962)(250,0.70984)(300,0.70998)(330,0.70995)(350,0.70960)(370,0.70880)(390,0.70800)(410,0.70740)(430,0.70710)(450,0.70700)(475,0.70720)(500,0.70780)(525,0.70850)(550,0.70890)(590,0.70910)(640,0.70918)(700,0.70920)};
\LA{(0,0.70928)(50,0.70934)(100,0.70944)(150,0.70958)(200,0.70978)(250,0.71000)(300,0.71020)(350,0.71028)(400,0.71020)(440,0.70990)(460,0.70930)(478,0.70850)(495,0.70780)(515,0.70730)(535,0.70720)(555,0.70750)(575,0.70810)(595,0.70860)(625,0.70900)(670,0.70915)(730,0.70920)};
\LA{(0,0.70908)(50,0.70914)(100,0.70924)(150,0.70938)(200,0.70958)(250,0.70980)(300,0.70995)(350,0.71000)(400,0.70990)(450,0.70975)(490,0.70950)(520,0.70890)(545,0.70800)(565,0.70740)(585,0.70720)(605,0.70740)(625,0.70790)(650,0.70850)(680,0.70890)(720,0.70910)(780,0.70918)};
\LA{(0,0.70920)(50,0.70926)(100,0.70936)(150,0.70950)(200,0.70970)(250,0.70990)(300,0.71005)(350,0.71008)(390,0.70995)(410,0.70950)(430,0.70870)(450,0.70790)(470,0.70730)(490,0.70700)(510,0.70710)(530,0.70760)(550,0.70830)(575,0.70880)(610,0.70905)(660,0.70915)(720,0.70920)};
\LA{(0,0.70915)(50,0.70920)(100,0.70930)(150,0.70944)(200,0.70964)(250,0.70986)(300,0.71002)(350,0.71006)(400,0.70996)(450,0.70982)(480,0.70960)(500,0.70900)(520,0.70820)(540,0.70760)(560,0.70740)(580,0.70770)(600,0.70830)(620,0.70880)(650,0.70905)(700,0.70915)(760,0.70920)};
\LA{(0,0.70925)(50,0.70932)(100,0.70942)(150,0.70956)(200,0.70976)(250,0.70998)(300,0.71012)(350,0.71015)(400,0.71005)(440,0.70975)(465,0.70920)(490,0.70860)(515,0.70820)(540,0.70810)(565,0.70840)(590,0.70880)(620,0.70905)(670,0.70915)(730,0.70920)};
\LA{(0,0.70910)(50,0.70916)(100,0.70926)(150,0.70940)(200,0.70960)(250,0.70982)(300,0.70998)(340,0.71000)(360,0.70985)(380,0.70920)(400,0.70830)(420,0.70750)(440,0.70690)(460,0.70660)(480,0.70660)(505,0.70700)(530,0.70780)(555,0.70850)(580,0.70890)(620,0.70910)(680,0.70918)};
\LA{(0,0.70885)(50,0.70890)(100,0.70900)(150,0.70915)(200,0.70940)(250,0.70965)(300,0.70985)(350,0.70995)(400,0.70990)(450,0.70978)(500,0.70962)(550,0.70948)(600,0.70935)(650,0.70926)(700,0.70920)};
\LA{(0,0.70950)(50,0.70960)(100,0.70970)(150,0.70980)(200,0.70995)(250,0.71015)(300,0.71030)(350,0.71035)(400,0.71025)(450,0.71010)(500,0.70990)(550,0.70970)(600,0.70950)(650,0.70938)(700,0.70928)(750,0.70922)};
\LA{(0,0.70940)(50,0.70970)(100,0.70980)(150,0.70985)(200,0.71000)(250,0.71020)(300,0.71040)(350,0.71050)(400,0.71045)(450,0.71030)(500,0.71010)(550,0.70990)(600,0.70965)(650,0.70948)(700,0.70935)(750,0.70926)(800,0.70922)};
\LA{(0,0.70900)(50,0.70905)(100,0.70912)(150,0.70920)(175,0.70860)(190,0.70880)(220,0.70930)(250,0.70960)(300,0.70985)(350,0.70995)(400,0.70990)(450,0.70975)(500,0.70960)(550,0.70945)(600,0.70932)(650,0.70924)(700,0.70920)};
\LA{(0,0.70915)(40,0.70925)(80,0.70932)(120,0.70945)(160,0.70958)(200,0.70980)(240,0.71005)(280,0.71020)(320,0.71035)(360,0.71028)(400,0.71040)(440,0.71030)(480,0.71015)(520,0.71000)(560,0.70985)(600,0.70968)(640,0.70955)(680,0.70945)(720,0.70935)(760,0.70928)(800,0.70922)};
\LA{(0,0.70925)(40,0.70920)(80,0.70938)(120,0.70950)(160,0.70962)(200,0.70978)(240,0.70998)(280,0.71015)(320,0.71008)(360,0.71020)(400,0.71010)(440,0.70998)(480,0.70985)(520,0.70972)(560,0.70960)(600,0.70950)(640,0.70942)(680,0.70935)(720,0.70928)(760,0.70922)};
\LA{(0,0.70930)(40,0.70945)(80,0.70950)(120,0.70962)(160,0.70978)(200,0.71000)(240,0.71025)(280,0.71045)(320,0.71055)(360,0.71048)(400,0.71035)(440,0.71020)(480,0.71008)(520,0.70995)(560,0.70980)(600,0.70965)(640,0.70950)(680,0.70940)(720,0.70932)(760,0.70925)(800,0.70920)};
\LA{(0,0.70908)(40,0.70915)(80,0.70928)(120,0.70935)(160,0.70950)(200,0.70968)(240,0.70990)(280,0.71000)(320,0.70995)(360,0.71005)(400,0.70998)(440,0.70990)(480,0.70978)(520,0.70965)(560,0.70955)(600,0.70945)(640,0.70938)(680,0.70930)(720,0.70925)};
\LA{(0,0.70935)(40,0.70940)(80,0.70955)(120,0.70965)(160,0.70982)(200,0.71005)(240,0.71030)(280,0.71055)(300,0.71075)(320,0.71060)(360,0.71050)(400,0.71042)(440,0.71030)(480,0.71018)(520,0.71000)(560,0.70985)(600,0.70970)(640,0.70958)(680,0.70945)(720,0.70935)(760,0.70928)};
\LA{(0,0.70918)(40,0.70928)(80,0.70935)(120,0.70948)(160,0.70962)(200,0.70985)(240,0.71010)(280,0.71030)(320,0.71025)(360,0.71015)(400,0.71025)(440,0.71035)(480,0.71045)(520,0.71030)(560,0.71010)(600,0.70990)(640,0.70970)(680,0.70952)(720,0.70940)(760,0.70930)(800,0.70924)(840,0.70920)};
\LA{(0,0.70900)(40,0.70912)(80,0.70920)(120,0.70930)(160,0.70945)(200,0.70962)(240,0.70985)(280,0.71000)(320,0.71012)(360,0.71018)(400,0.71010)(440,0.70998)(480,0.70985)(520,0.70975)(560,0.70965)(600,0.70975)(640,0.70990)(680,0.70980)(720,0.70960)(760,0.70940)(800,0.70925)};
\LA{(0,0.70928)(40,0.70935)(80,0.70945)(120,0.70955)(160,0.70970)(200,0.70990)(240,0.71010)(280,0.71028)(320,0.71040)(360,0.71055)(400,0.71062)(440,0.71050)(480,0.71035)(520,0.71015)(560,0.70995)(600,0.70975)(640,0.70960)(680,0.70948)(720,0.70938)(760,0.70930)(800,0.70925)};
\LA{(0,0.70912)(40,0.70918)(80,0.70925)(120,0.70940)(160,0.70955)(200,0.70975)(240,0.70995)(280,0.71012)(320,0.71025)(360,0.71018)(400,0.71008)(440,0.70995)(480,0.70982)(520,0.70968)(560,0.70955)(600,0.70945)(640,0.70936)(680,0.70930)(720,0.70925)(760,0.70920)};
\LA{(0,0.70922)(40,0.70930)(80,0.70942)(120,0.70955)(160,0.70968)(200,0.70985)(240,0.71005)(280,0.71022)(320,0.71038)(360,0.71045)(400,0.71052)(440,0.71045)(480,0.71030)(520,0.71012)(560,0.70992)(600,0.70972)(640,0.70955)(680,0.70942)(720,0.70932)(760,0.70926)(800,0.70922)};
\LA{(0,0.70915)(40,0.70922)(80,0.70935)(120,0.70948)(160,0.70962)(200,0.70982)(240,0.71005)(280,0.71030)(320,0.71050)(350,0.71065)(380,0.71055)(410,0.71072)(440,0.71050)(480,0.71030)(520,0.71010)(560,0.70990)(600,0.70970)(640,0.70955)(680,0.70942)(720,0.70932)};
\LA{(0,0.70905)(40,0.70910)(80,0.70922)(120,0.70932)(160,0.70948)(200,0.70965)(240,0.70985)(280,0.70998)(320,0.71005)(360,0.70998)(400,0.70990)(440,0.70978)(480,0.70965)(520,0.70950)(560,0.70940)(600,0.70932)(640,0.70926)(680,0.70922)};
\LA{(0,0.70925)(40,0.70932)(80,0.70940)(120,0.70952)(160,0.70966)(200,0.70985)(240,0.71008)(280,0.71025)(320,0.71030)(360,0.71022)(400,0.71010)(440,0.70998)(480,0.70988)(520,0.70980)(560,0.70975)(600,0.70980)(640,0.70998)(670,0.70995)(700,0.70975)(740,0.70950)(780,0.70930)};
\LA{(0,0.70918)(40,0.70925)(80,0.70935)(120,0.70945)(160,0.70960)(200,0.70978)(240,0.70998)(280,0.71015)(320,0.71020)(360,0.71005)(390,0.70975)(410,0.70920)(430,0.70840)(450,0.70770)(470,0.70730)(490,0.70720)(510,0.70745)(530,0.70800)(550,0.70860)(575,0.70895)(610,0.70912)(660,0.70918)(720,0.70920)};
\LA{(0,0.70930)(40,0.70935)(80,0.70945)(120,0.70958)(160,0.70970)(200,0.70990)(240,0.71010)(280,0.71028)(320,0.71035)(360,0.71025)(400,0.71010)(440,0.70985)(460,0.70950)(480,0.70880)(500,0.70810)(520,0.70770)(540,0.70760)(560,0.70790)(580,0.70840)(600,0.70880)(630,0.70905)(680,0.70915)(740,0.70920)};
\LA{(0,0.70910)(40,0.70915)(80,0.70928)(120,0.70938)(160,0.70952)(200,0.70970)(240,0.70990)(280,0.71000)(320,0.70998)(350,0.70980)(370,0.70940)(390,0.70870)(410,0.70800)(430,0.70750)(450,0.70725)(470,0.70720)(495,0.70750)(520,0.70810)(545,0.70865)(570,0.70895)(610,0.70910)(660,0.70918)};
\LA{(0,0.70922)(40,0.70930)(80,0.70940)(120,0.70952)(160,0.70965)(200,0.70985)(240,0.71005)(280,0.71020)(320,0.71015)(360,0.71005)(400,0.70990)(440,0.70975)(480,0.70955)(510,0.70920)(530,0.70860)(550,0.70800)(570,0.70770)(590,0.70790)(610,0.70840)(630,0.70880)(660,0.70905)(700,0.70915)(760,0.70920)};
\LA{(0,0.70915)(40,0.70920)(80,0.70930)(120,0.70942)(160,0.70955)(200,0.70975)(240,0.70995)(280,0.71010)(320,0.71012)(360,0.71000)(400,0.70980)(425,0.70940)(445,0.70870)(465,0.70800)(485,0.70760)(505,0.70750)(525,0.70770)(545,0.70820)(565,0.70870)(590,0.70900)(630,0.70912)(680,0.70918)(740,0.70920)};
\LA{(0,0.70925)(40,0.70930)(80,0.70942)(120,0.70955)(160,0.70968)(200,0.70988)(240,0.71008)(280,0.71022)(320,0.71025)(360,0.71010)(380,0.70980)(400,0.70920)(420,0.70840)(440,0.70770)(460,0.70720)(480,0.70700)(500,0.70710)(520,0.70760)(540,0.70830)(560,0.70880)(590,0.70905)(640,0.70915)(700,0.70920)};
\LA{(0,0.70905)(40,0.70912)(80,0.70922)(120,0.70935)(160,0.70948)(200,0.70965)(240,0.70985)(280,0.70998)(320,0.71000)(360,0.70990)(400,0.70975)(440,0.70955)(470,0.70920)(490,0.70860)(510,0.70800)(530,0.70765)(550,0.70770)(570,0.70810)(590,0.70860)(615,0.70895)(650,0.70910)(700,0.70918)};
\LA{(0,0.70920)(40,0.70926)(80,0.70936)(120,0.70948)(160,0.70962)(200,0.70980)(240,0.71000)(280,0.71015)(320,0.71012)(350,0.70998)(375,0.70960)(395,0.70890)(415,0.70810)(435,0.70740)(455,0.70690)(475,0.70665)(495,0.70670)(515,0.70710)(535,0.70780)(555,0.70840)(580,0.70885)(620,0.70908)(670,0.70916)};
\LA{(0,0.70912)(40,0.70920)(80,0.70930)(120,0.70940)(160,0.70955)(200,0.70972)(240,0.70992)(280,0.71008)(320,0.71018)(360,0.71012)(400,0.70998)(440,0.70980)(480,0.70962)(510,0.70935)(530,0.70880)(550,0.70820)(570,0.70780)(590,0.70775)(610,0.70810)(630,0.70860)(655,0.70895)(690,0.70912)(740,0.70920)};
\LA{(0,0.70928)(40,0.70932)(80,0.70945)(120,0.70958)(160,0.70972)(200,0.70992)(240,0.71015)(280,0.71030)(320,0.71032)(360,0.71020)(400,0.71000)(430,0.70970)(450,0.70915)(470,0.70845)(490,0.70790)(510,0.70760)(530,0.70765)(550,0.70810)(570,0.70865)(595,0.70900)(630,0.70912)(680,0.70918)(740,0.70920)};
\LA{(0,0.70918)(40,0.70922)(80,0.70932)(120,0.70944)(160,0.70958)(200,0.70976)(240,0.70995)(280,0.71010)(320,0.71005)(355,0.70990)(380,0.70955)(400,0.70895)(420,0.70825)(440,0.70765)(460,0.70740)(480,0.70745)(500,0.70780)(520,0.70835)(545,0.70880)(575,0.70902)(620,0.70914)(680,0.70920)};
\LA{(0,0.70910)(40,0.70918)(80,0.70928)(120,0.70940)(160,0.70955)(200,0.70972)(240,0.70992)(280,0.71005)(320,0.71008)(360,0.71000)(400,0.70988)(440,0.70975)(480,0.70962)(520,0.70950)(560,0.70935)(585,0.70890)(600,0.70820)(615,0.70760)(630,0.70720)(645,0.70700)};
\LA{(0,0.70925)(40,0.70930)(80,0.70940)(120,0.70952)(160,0.70965)(200,0.70985)(240,0.71005)(280,0.71020)(320,0.71022)(360,0.71012)(400,0.70995)(440,0.70970)(470,0.70930)(490,0.70870)(510,0.70820)(530,0.70800)(550,0.70810)(570,0.70850)(595,0.70890)(630,0.70910)(680,0.70918)(740,0.70920)};
\LA{(0,0.70915)(40,0.70925)(80,0.70934)(120,0.70946)(160,0.70960)(200,0.70978)(240,0.70998)(280,0.71012)(320,0.71015)(360,0.71005)(400,0.70985)(420,0.70950)(440,0.70890)(460,0.70830)(480,0.70790)(500,0.70780)(520,0.70800)(540,0.70845)(565,0.70885)(600,0.70905)(650,0.70915)(710,0.70920)};
\LA{(0,0.70880)(30,0.70870)(60,0.70890)(90,0.70900)(120,0.70915)(160,0.70935)(200,0.70958)(240,0.70980)(280,0.70998)(320,0.71005)(360,0.71000)(400,0.70990)(440,0.70975)(480,0.70962)(520,0.70950)(560,0.70940)(600,0.70932)(650,0.70925)(700,0.70920)};
\LA{(0,0.70945)(30,0.70955)(60,0.70960)(90,0.70968)(120,0.70975)(160,0.70985)(200,0.71000)(240,0.71018)(280,0.71035)(320,0.71042)(360,0.71035)(400,0.71020)(440,0.71005)(480,0.70990)(520,0.70978)(560,0.70965)(600,0.70952)(650,0.70940)(700,0.70930)(750,0.70924)(800,0.70920)};
\LA{(0,0.70895)(30,0.70905)(60,0.70900)(90,0.70915)(120,0.70922)(160,0.70940)(200,0.70962)(240,0.70988)(280,0.71005)(320,0.71015)(360,0.71010)(400,0.70998)(440,0.70985)(480,0.70970)(520,0.70958)(560,0.70948)(600,0.70940)(650,0.70932)(700,0.70925)(750,0.70920)};
\LA{(0,0.70920)(40,0.70928)(80,0.70938)(120,0.70950)(160,0.70964)(200,0.70982)(240,0.71002)(280,0.71018)(320,0.71020)(360,0.71010)(400,0.70995)(440,0.70978)(480,0.70960)(500,0.70920)(515,0.70850)(530,0.70780)(545,0.70740)(560,0.70735)(575,0.70760)(595,0.70820)(615,0.70870)(645,0.70900)(690,0.70914)(750,0.70920)};
\LA{(0,0.70908)(40,0.70915)(80,0.70925)(120,0.70936)(160,0.70950)(200,0.70968)(240,0.70988)(280,0.71002)(320,0.71008)(350,0.70995)(370,0.70960)(385,0.70900)(400,0.70830)(415,0.70770)(430,0.70730)(450,0.70710)(470,0.70720)(495,0.70770)(520,0.70840)(545,0.70885)(580,0.70905)(630,0.70915)(690,0.70920)};
\LA{(0,0.70878)(40,0.70885)(80,0.70892)(120,0.70905)(160,0.70925)(200,0.70950)(240,0.70975)(280,0.70995)(320,0.71005)(360,0.71000)(400,0.70990)(440,0.70975)(480,0.70960)(520,0.70948)(560,0.70938)(600,0.70930)(650,0.70924)(700,0.70920)};
\LA{(0,0.70890)(40,0.70882)(80,0.70895)(120,0.70900)(160,0.70918)(200,0.70940)(240,0.70968)(280,0.70990)(320,0.71000)(360,0.70995)(400,0.70985)(430,0.70950)(450,0.70880)(470,0.70800)(490,0.70750)(510,0.70740)(530,0.70770)(550,0.70830)(575,0.70880)(610,0.70905)(660,0.70915)(720,0.70920)};
\LA{(0,0.70965)(40,0.70970)(80,0.70978)(120,0.70985)(160,0.70992)(200,0.71005)(240,0.71020)(280,0.71035)(320,0.71045)(360,0.71040)(400,0.71030)(440,0.71015)(480,0.71000)(520,0.70985)(560,0.70970)(600,0.70958)(640,0.70948)(680,0.70940)(720,0.70932)(760,0.70925)(800,0.70920)};
\LA{(0,0.70958)(40,0.70962)(80,0.70972)(120,0.70980)(160,0.70990)(200,0.71000)(240,0.71012)(280,0.71025)(320,0.71030)(360,0.71020)(400,0.71008)(440,0.70990)(480,0.70975)(520,0.70962)(560,0.70950)(600,0.70940)(650,0.70930)(700,0.70924)(760,0.70920)};
\LA{(0,0.70885)(40,0.70895)(80,0.70890)(120,0.70908)(160,0.70920)(200,0.70945)(240,0.70970)(280,0.70985)(320,0.70995)(360,0.70990)(400,0.70980)(440,0.70968)(480,0.70955)(520,0.70945)(560,0.70938)(600,0.70932)(650,0.70926)(700,0.70920)};
\LA{(0,0.70940)(40,0.70955)(80,0.70965)(120,0.70975)(160,0.70985)(200,0.70998)(240,0.71015)(280,0.71032)(320,0.71048)(360,0.71058)(400,0.71050)(440,0.71038)(480,0.71022)(520,0.71005)(560,0.70988)(600,0.70970)(640,0.70955)(680,0.70945)(720,0.70935)(760,0.70928)(800,0.70922)};
\LA{(0,0.70895)(40,0.70892)(80,0.70902)(120,0.70915)(160,0.70930)(200,0.70952)(240,0.70975)(280,0.70992)(320,0.71000)(360,0.70995)(390,0.70970)(410,0.70910)(430,0.70830)(450,0.70770)(470,0.70740)(490,0.70745)(510,0.70790)(530,0.70850)(555,0.70890)(590,0.70908)(640,0.70916)(700,0.70920)};
\LA{(0,0.70960)(40,0.70950)(80,0.70965)(120,0.70972)(160,0.70982)(200,0.70995)(240,0.71010)(280,0.71022)(320,0.71028)(360,0.71020)(400,0.71005)(440,0.70990)(480,0.70978)(520,0.70968)(560,0.70960)(600,0.70952)(640,0.70945)(680,0.70938)(720,0.70930)(760,0.70925)};
\refs
\end{axis}
% strips
\draw[line width=1.1pt] (49.5pt,200.8pt) rectangle (209.25pt,216.5pt);
\draw[line width=1.1pt] (216pt,200.8pt) rectangle (375.75pt,216.5pt);
\node[font=\fs] at (129.4pt,208.6pt) {Juvenile};
\node[font=\fs] at (295.9pt,208.6pt) {Adult};
% axis titles
\node[rotate=90, font=\fl, anchor=center] at (12.15pt,113.4pt) {Otolith \textsuperscript{87}Sr/\textsuperscript{86}Sr};
\node[font=\fl, anchor=base, inner sep=0pt] at (212.6pt,2.4pt) {Distance from otolith core (µm)};
% legend
\node[font=\fl, anchor=north west, align=left, inner sep=0pt] at (392.85pt,137.7pt) {Migratory\\phenotype};
\draw[teal0, line width=0.6pt, draw opacity=0.35] (393.75pt,105.75pt) -- (403.65pt,105.75pt);
\draw[orange0, line width=0.6pt, draw opacity=0.35] (393.75pt,92.7pt) -- (403.65pt,92.7pt);
\node[font=\fs, anchor=base west, inner sep=0pt] at (410.4pt,101.25pt) {Early};
\node[font=\fs, anchor=base west, inner sep=0pt] at (410.4pt,89.1pt) {Late};
\end{tikzpicture}
\end{document}
